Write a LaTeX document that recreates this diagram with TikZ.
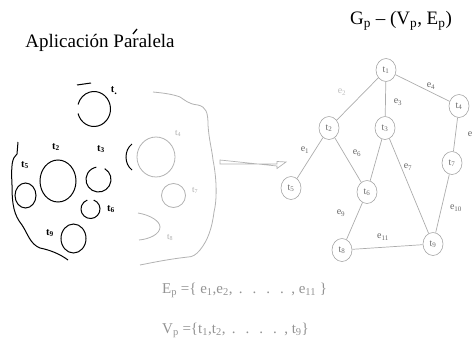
\documentclass[tikz,border=0pt]{standalone}
\usepackage{fontspec}
\setmainfont{Liberation Serif}
\usetikzlibrary{shapes.geometric}
\begin{document}
\begin{tikzpicture}[x=1pt,y=-1pt,
  gn/.style={ellipse,draw=gray!70,line width=0.6pt,minimum width=20pt,minimum height=23pt,inner sep=0pt,font=\fontsize{10}{10}\selectfont,text=gray!85!black},
  ge/.style={draw=gray!65,line width=0.7pt},
  el/.style={font=\fontsize{10}{10}\selectfont,text=gray!80!black,inner sep=0pt},
  bl/.style={draw=black,line width=1pt},
  blab/.style={font=\bfseries\fontsize{10.5}{10}\selectfont,inner sep=0pt},
  gl/.style={draw=gray!60,line width=0.8pt},
  glab/.style={font=\fontsize{9}{9}\selectfont,text=gray!65,inner sep=0pt},
  big/.style={font=\fontsize{19}{19}\selectfont,inner sep=0pt},
  setx/.style={font=\fontsize{15}{15}\selectfont,text=gray!85,inner sep=0pt,anchor=west}]
\useasboundingbox (0,0) rectangle (473,340);

% titles
\node[big] (title) at (401,21) {G\textsubscript{p} – (V\textsubscript{p}, E\textsubscript{p})};
\node[big] (app) at (100,43) {Aplicación Paralela};
\draw[line width=1.3pt] (133,34) -- (137,29);

% ---------- left drawing (black) ----------
\draw[bl] (18,142) -- (17,154) .. controls (12,158) and (11,165) .. (12,185)
  .. controls (12,205) and (14,215) .. (22,225)
  .. controls (28,234) and (30,244) .. (40,248)
  .. controls (50,250) and (60,254) .. (68,260);
% t1
\draw[bl] (94,109) ++(165:16.5 and 17.5) arc[start angle=165,end angle=-165,x radius=16.5,y radius=17.5];
\draw[bl] (77,85) -- (91,83);
\node[blab] (lt1) at (114,91) {t\raisebox{-2pt}{.}};
% t2
\draw[bl] (58,181) ellipse[x radius=18,y radius=21];
\node[blab] (lt2) at (56,147) {t\textsubscript{2}};
% t3
\draw[bl] (98.5,179.5) ++(-60:12.5) arc[start angle=-60,end angle=260,radius=12.5];
\node[blab] (lt3) at (101,149) {t\textsubscript{3}};
% t5
\draw[bl] (25.5,195.5) ellipse[x radius=10.5,y radius=12.5];
\node[blab] (lt5) at (25,165) {t\textsubscript{5}};
% t6
\draw[bl] (90.5,209) ++(-70:9.5) arc[start angle=-70,end angle=250,radius=9.5];
\node[blab] (lt6) at (111,209) {t\textsubscript{6}};
% t9
\draw[bl] (73.5,238.5) ellipse[x radius=12.5,y radius=14.5];
\node[blab] (lt9) at (50,233) {t\textsubscript{9}};
% black arc left of t4
\draw[bl] (132,144) .. controls (124,150) and (124,164) .. (132,170);

% ---------- right part of the application (grey) ----------
\draw[gl] (153,92) .. controls (163,93) and (172,94) .. (180,97)
  .. controls (185,100) and (188,104) .. (198,105)
  .. controls (206,107) and (208,112) .. (208,125)
  .. controls (209,140) and (212,150) .. (213,160)
  .. controls (217,180) and (217,200) .. (214,212)
  .. controls (212,228) and (208,240) .. (200,250)
  .. controls (196,255) and (192,257) .. (188,257)
  .. controls (170,259) and (155,262) .. (140,265);
\draw[gl] (156,157) ellipse[x radius=19,y radius=20];
\node[glab] (lt4) at (178,133) {t\textsubscript{4}};
\draw[gl] (173.5,195.5) circle[radius=12];
\node[glab] (lt7) at (195,190) {t\textsubscript{7}};
\draw[gl] (138,213) .. controls (150,215) and (160,221) .. (160,227)
  .. controls (160,234) and (150,239) .. (139,240);
\node[glab] (lt8) at (170,237) {t\textsubscript{8}};

% hollow arrow
\coordinate (a0) at (220,162);
\coordinate (a1) at (286,162);
\draw[gray!60,line width=0.7pt] ([yshift=-2pt]a0) -- ++(57,0) -- ++(0,-2.5) -- (a1) -- ++(-9,6.5) -- ++(0,-2.5) -- ([yshift=2pt]a0) -- cycle;

% ---------- graph ----------
\node[gn] (t1) at (386,70) {t\textsubscript{1}};
\node[gn] (t2) at (329,128) {t\textsubscript{2}};
\node[gn] (t3) at (385,128) {t\textsubscript{3}};
\node[gn] (t4) at (459,106) {t\textsubscript{4}};
\node[gn] (t5) at (291,188) {t\textsubscript{5}};
\node[gn] (t6) at (367,192) {t\textsubscript{6}};
\node[gn] (t7) at (452,163) {t\textsubscript{7}};
\node[gn] (t8) at (342,250) {t\textsubscript{8}};
\node[gn] (t9) at (433,244) {t\textsubscript{9}};

\draw[ge] (t1) -- (t2);
\draw[ge] (t1) -- (t3);
\draw[ge] (t1) -- (t4);
\draw[ge] (t2) -- (t5);
\draw[ge] (t2) -- (t6);
\draw[ge] (t3) -- (t6);
\draw[ge] (t3) -- (t9);
\draw[ge] (t4) -- (t7);
\draw[ge] (t6) -- (t8);
\draw[ge] (t8) -- (t9);
\draw[ge] (t7) -- (t9);

\node[el,text=gray!50] (e2) at (342,92) {e\textsubscript{2}};
\node[el] (e3) at (398,102) {e\textsubscript{3}};
\node[el] (e4) at (431,86) {e\textsubscript{4}};
\node[el] (e5) at (470,134) {e};
\node[el] (e1) at (305,150) {e\textsubscript{1}};
\node[el] (e6) at (357,153) {e\textsubscript{6}};
\node[el] (e7) at (408,167) {e\textsubscript{7}};
\node[el] (e9) at (341,213) {e\textsubscript{9}};
\node[el] (e11) at (383,237) {e\textsubscript{11}};
\node[el] (e10) at (456,208) {e\textsubscript{10}};

% ---------- sets ----------
\node[setx] (ep) at (162,290) {E\textsubscript{p} =\{ e\textsubscript{1},e\textsubscript{2}, \,.\, \,.\, \,.\, \,.\, , e\textsubscript{11} \}};
\node[setx] (vp) at (162,330) {V\textsubscript{p} =\{t\textsubscript{1},t\textsubscript{2}, \,.\, \,.\, \,.\, \,.\, , t\textsubscript{9}\}};
\end{tikzpicture}
\end{document}
